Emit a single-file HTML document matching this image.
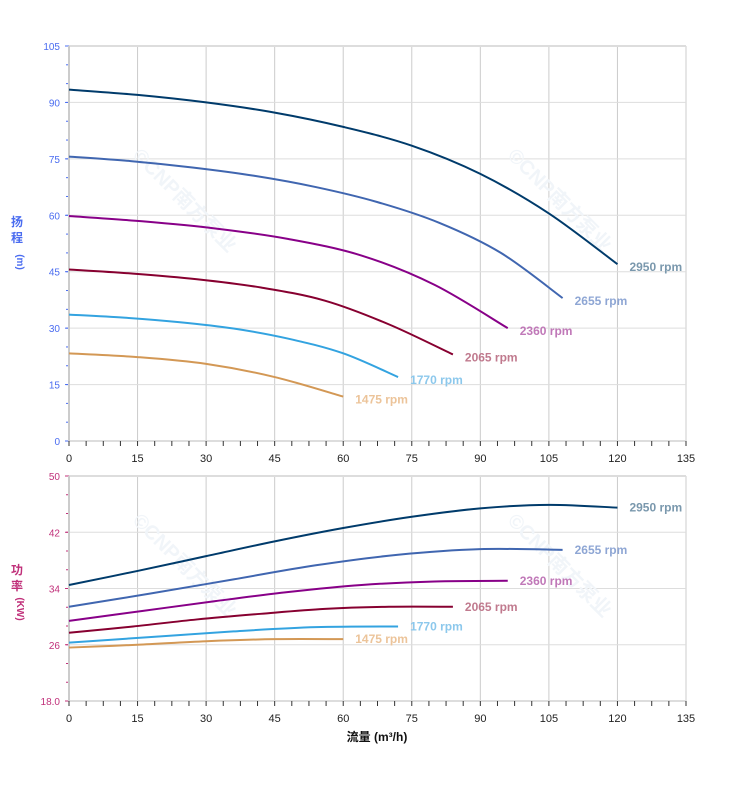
<!DOCTYPE html>
<html><head><meta charset="utf-8"><style>
body{margin:0;background:#fff;}
svg{display:block;font-family:"Liberation Sans","Noto Sans CJK SC",sans-serif;}
</style></head><body>
<svg id="s" width="752" height="797" xmlns="http://www.w3.org/2000/svg"></svg>
<script>
const s=document.getElementById('s');let h='';
const X=q=>69+q*617/135;
const YT=v=>441-v*395/105;
const YB=p=>701-(p-18)*225/32;
for(let i=0;i<=9;i++){const x=X(i*15);
 h+=`<line x1="${x}" y1="46" x2="${x}" y2="441" stroke="#ccc"/>`;
 h+=`<line x1="${x}" y1="476" x2="${x}" y2="701" stroke="#ccc"/>`;
 h+=`<text x="${x}" y="462" font-size="11" text-anchor="middle" fill="#222">${i*15}</text>`;
 h+=`<text x="${x}" y="722" font-size="11" text-anchor="middle" fill="#222">${i*15}</text>`;}
for(let i=0;i<=7;i++){const y=YT(i*15);
 h+=`<line x1="69" y1="${y}" x2="686" y2="${y}" stroke="#ddd" stroke-width="${i==0||i==7?2:1}"/>`;
 h+=`<text x="60" y="${y+4}" font-size="10" text-anchor="end" fill="#4a6cf0">${i*15}</text>`;
 h+=`<line x1="65" y1="${y}" x2="69" y2="${y}" stroke="#4a6cf0"/>`;}
for(let v=0;v<105;v+=5){const y=YT(v);h+=`<line x1="66" y1="${y}" x2="69" y2="${y}" stroke="#4a6cf0"/>`;}
const bl=[50,42,34,26,18];
bl.forEach((v,i)=>{const y=YB(v);
 h+=`<line x1="69" y1="${y}" x2="686" y2="${y}" stroke="#ddd" stroke-width="${i==0||i==4?2:1}"/>`;
 h+=`<text x="60" y="${y+4}" font-size="10" text-anchor="end" fill="#c0307a">${v==18?'18.0':v}</text>`;
 h+=`<line x1="65" y1="${y}" x2="69" y2="${y}" stroke="#c0307a"/>`;});
for(let v=18;v<50;v+=8/3){const y=YB(v);h+=`<line x1="66" y1="${y}" x2="69" y2="${y}" stroke="#c0307a"/>`;}
h+=`<line x1="69" y1="46" x2="69" y2="441" stroke="#ccc" stroke-width="2"/>`;
h+=`<line x1="69" y1="476" x2="69" y2="701" stroke="#ccc" stroke-width="2"/>`;
for(let q=0;q<=135;q+=3.75){const x=X(q);
 h+=`<line x1="${x}" y1="441" x2="${x}" y2="446" stroke="#333"/>`;
 h+=`<line x1="${x}" y1="701" x2="${x}" y2="706" stroke="#333"/>`;}
h+=`<text x="17" y="226" font-size="12" font-weight="bold" fill="#4a6cf0" text-anchor="middle">扬</text>`;
h+=`<text x="17" y="242" font-size="12" font-weight="bold" fill="#4a6cf0" text-anchor="middle">程</text>`;
h+=`<text x="17" y="262" font-size="10" font-weight="bold" fill="#4a6cf0" text-anchor="middle" transform="rotate(90 17 262)">(m)</text>`;
h+=`<text x="17" y="574" font-size="12" font-weight="bold" fill="#c0307a" text-anchor="middle">功</text>`;
h+=`<text x="17" y="590" font-size="12" font-weight="bold" fill="#c0307a" text-anchor="middle">率</text>`;
h+=`<text x="17" y="609" font-size="10" font-weight="bold" fill="#c0307a" text-anchor="middle" transform="rotate(90 17 609)">(KW)</text>`;
h+=`<text x="377" y="741" font-size="12" font-weight="bold" fill="#111" text-anchor="middle">流量 (m³/h)</text>`;
[[180,205],[555,205],[180,570],[555,570]].forEach(([x,y])=>{h+=`<text x="${x}" y="${y}" font-size="20" font-weight="bold" fill="#f1f5f9" text-anchor="middle" transform="rotate(45 ${x} ${y})">©CNP南方泵业</text>`;});
function curve(pts,Y,c){
 const P=pts.map(([q,v])=>[X(q),Y(v)]);let d=`M${P[0][0]},${P[0][1]}`;
 for(let i=0;i<P.length-1;i++){const p0=P[i-1]||P[i],p1=P[i],p2=P[i+1],p3=P[i+2]||p2;
  d+=` C${p1[0]+(p2[0]-p0[0])/6},${p1[1]+(p2[1]-p0[1])/6} ${p2[0]-(p3[0]-p1[0])/6},${p2[1]-(p3[1]-p1[1])/6} ${p2[0]},${p2[1]}`;}
 h+=`<path d="${d}" fill="none" stroke="${c}" stroke-width="2"/>`;}
const S=[
['#003b6b','#7a98ad','2950',[[0,93.4],[15,92],[30,90],[45,87.3],[60,83.5],[75,78.5],[90,71],[105,60.5],[120,47]],[[0,34.5],[15,36.5],[30,38.6],[45,40.7],[60,42.6],[75,44.2],[90,45.4],[105,45.9],[120,45.5]]],
['#4066b0','#8ea6d4','2655',[[0,75.6],[13.5,74.4],[27,72.7],[40.5,70.5],[54,67.5],[67.5,63.5],[81,58],[94.5,50],[108,38]],[[0,31.4],[18,33.3],[36,35.3],[54,37.3],[72,38.8],[90,39.6],[108,39.5]]],
['#880088','#c078b8','2360',[[0,59.8],[16,58.4],[32,56.5],[48,53.7],[64,49.3],[80,41.5],[96,30]],[[0,29.4],[16,30.8],[32,32.2],[48,33.5],[64,34.5],[80,35],[96,35.1]]],
['#870030','#c07a8e','2065',[[0,45.6],[14,44.5],[28,43],[42,40.8],[56,37.3],[70,31],[84,23]],[[0,27.7],[14,28.6],[28,29.6],[42,30.4],[56,31.1],[70,31.4],[84,31.4]]],
['#33a3e0','#8cc8ec','1770',[[0,33.6],[12,32.8],[24,31.6],[36,29.9],[48,27.2],[60,23.3],[72,17]],[[0,26.3],[18,27.1],[36,27.9],[54,28.5],[72,28.6]]],
['#d39855','#ecc49a','1475',[[0,23.3],[15,22.3],[30,20.5],[45,17],[60,11.8]],[[0,25.6],[15,26],[30,26.5],[45,26.8],[60,26.8]]]];
S.forEach(([c,lc,r,t,b])=>{curve(t,YT,c);curve(b,YB,c);
 const lt=t[t.length-1],lb=b[b.length-1];
 h+=`<text x="${X(lt[0])+12}" y="${YT(lt[1])+7}" font-size="12" font-weight="bold" fill="${lc}">${r} rpm</text>`;
 h+=`<text x="${X(lb[0])+12}" y="${YB(lb[1])+4}" font-size="12" font-weight="bold" fill="${lc}">${r} rpm</text>`;});
s.innerHTML=h;
</script>
</body></html>
